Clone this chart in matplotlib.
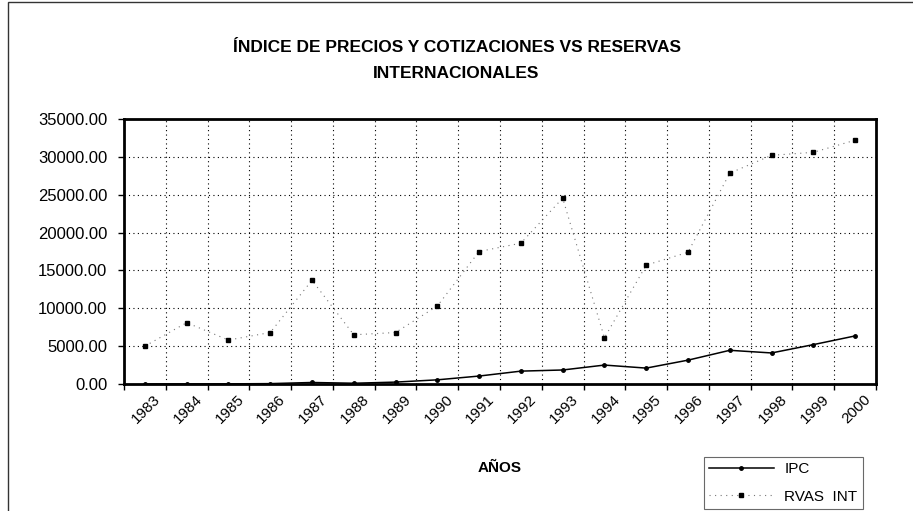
import matplotlib.pyplot as plt
from matplotlib.patches import Rectangle
import numpy as np

plt.rcParams['font.family'] = ['Liberation Sans', 'DejaVu Sans']

years = [str(y) for y in range(1983, 2001)]
ipc = [5, 10, 20, 50, 200, 100, 250, 550, 1050, 1700, 1850, 2500, 2100, 3150, 4450, 4100,
       5200, 6350]
rvas_int = [5000, 8100, 5800, 6800, 13700, 6500, 6800, 10300, 17500, 18600, 24550, 6100,
            15700, 17400, 27850, 30200, 30600, 32200]
y_ticks = [0, 5000, 10000, 15000, 20000, 25000, 30000, 35000]

fig = plt.figure(figsize=(9.13, 5.11), dpi=100)
fig.patches.append(Rectangle((8 / 913, -0.1), 1.2, 0.1 + (511 - 2) / 511, transform=fig.transFigure,
                             fill=False, edgecolor='#333333', linewidth=1.0))
ax = fig.add_axes([124 / 913, (511 - 384) / 511, 752 / 913, 265 / 511])

x = np.arange(len(years)) + 0.5
ax.plot(x, ipc, color='black', linewidth=1.1, marker='o', markersize=2.5, label='IPC')
ax.plot(x, rvas_int, color='#777777', linewidth=0.8, linestyle=(0, (1, 4)),
        marker='s', markersize=3.5, markerfacecolor='black', markeredgecolor='black',
        label='RVAS  INT')

ax.set_xlim(0, len(years))
ax.set_ylim(0, 35000)
ax.set_yticks(y_ticks)
ax.set_yticklabels([f'{v:.2f}' for v in y_ticks], fontsize=12)
ax.set_xticks(np.arange(len(years) + 1))
ax.set_xticklabels([])
# labels sit a little right of the category centre, as in the original
ax.set_xticks(x + 0.2, minor=True)
ax.set_xticklabels(years, minor=True, rotation=45, ha='right', va='top',
                   rotation_mode='anchor', fontsize=11)
ax.tick_params(axis='x', which='minor', length=0, pad=6)
ax.tick_params(axis='both', which='major', length=4, width=1, direction='out', color='black')
ax.tick_params(axis='y', pad=8)
ax.grid(True, which='major', color='black', linestyle=(0, (1, 3)), linewidth=0.8)
for s in ax.spines.values():
    s.set_linewidth(2)
    s.set_color('black')

fig.text(0.5, 1 - 47 / 511, 'ÍNDICE DE PRECIOS Y COTIZACIONES VS RESERVAS', ha='center',
         va='center', fontsize=12.5, fontweight='bold')
fig.text(0.5, 1 - 73 / 511, 'INTERNACIONALES', ha='center', va='center', fontsize=12.5,
         fontweight='bold')
fig.text(500 / 913, 1 - 468 / 511, 'AÑOS', ha='center', va='center', fontsize=11,
         fontweight='bold')

leg = fig.legend(loc='lower left', bbox_to_anchor=(704 / 913, 2 / 511), fontsize=11,
                 frameon=True, fancybox=False, edgecolor='#444444', borderpad=0.35,
                 handlelength=4.2, handletextpad=0.7, labelspacing=0.9, borderaxespad=0)
leg.get_frame().set_linewidth(0.8)

fig.savefig('out.png', dpi=100)
